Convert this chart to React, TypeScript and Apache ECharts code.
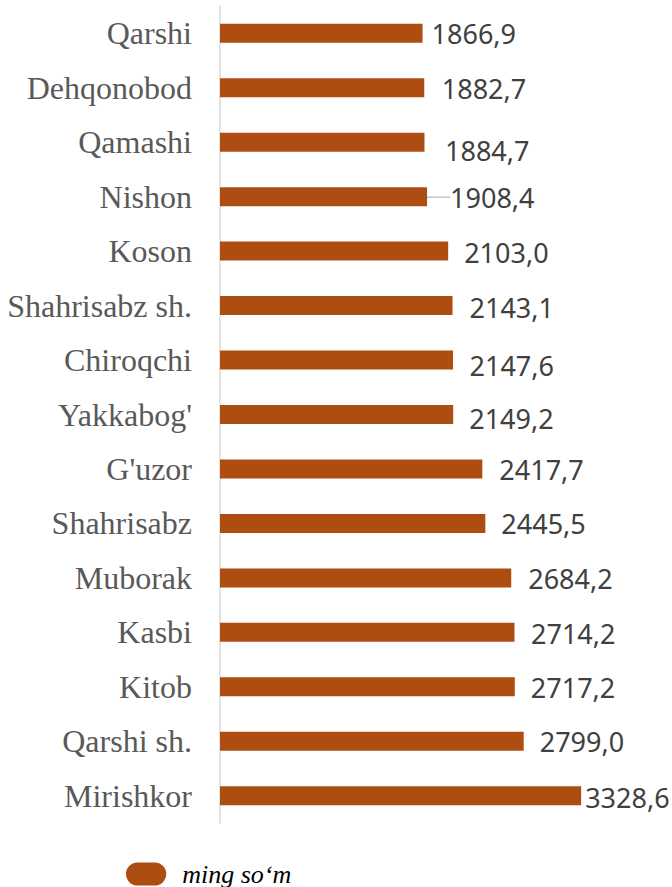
import React, { useEffect, useRef } from "react";
import * as echarts from "echarts";

const categories = [
  "Qarshi",
  "Dehqonobod",
  "Qamashi",
  "Nishon",
  "Koson",
  "Shahrisabz sh.",
  "Chiroqchi",
  "Yakkabog'",
  "G'uzor",
  "Shahrisabz",
  "Muborak",
  "Kasbi",
  "Kitob",
  "Qarshi sh.",
  "Mirishkor",
];
const values = [
  1866.9, 1882.7, 1884.7, 1908.4, 2103.0, 2143.1, 2147.6, 2149.2, 2417.7, 2445.5,
  2684.2, 2714.2, 2717.2, 2799.0, 3328.6,
];
const seriesName = "ming so\u2018m";

// label nudges (px) to mimic manually placed data labels
const labelDx = [-11, -2.5, 0.5, 3, -4, -3, -3.5, -4, -3, -4, -3, -3.5, -4, -4, -16];
const labelDy = [0, 1, 8, 0.5, 1.5, 1.5, 5, 3.5, 1, 0, 1, 1, 0.5, 0.5, 2];

const BAR = "#AD4D12";
const SERIF = "'Liberation Serif', 'Times New Roman', serif";

export default function App() {
  const ref = useRef<HTMLDivElement>(null);
  useEffect(() => {
    if (!ref.current) return;
    const chart = echarts.init(ref.current, null, { renderer: "svg" });
    const pill = "path://M12,0 L30,0 A12,12 0 0 1 30,24 L12,24 A12,12 0 0 1 12,0 Z";
    chart.setOption({
      animation: false,
      backgroundColor: "#ffffff",
      grid: { left: 220, right: 18, top: 6, height: 817 },
      legend: {
        data: [{ name: seriesName, icon: pill }],
        left: 121,
        top: 856,
        itemWidth: 42,
        itemHeight: 23,
        formatter: (n: string) => `{t|${n}}`,
        textStyle: {
          fontFamily: SERIF,
          fontStyle: "italic",
          fontSize: 26,
          color: "#000000",
          rich: {
            t: {
              fontFamily: SERIF,
              fontStyle: "italic",
              fontSize: 26,
              color: "#000000",
              padding: [0, 0, 0, 10],
            },
          },
        },
      },
      xAxis: {
        type: "value",
        min: 0,
        max: 4000,
        show: false,
      },
      yAxis: {
        type: "category",
        data: categories,
        inverse: true,
        axisLine: { show: true, lineStyle: { color: "#D9D9D9", width: 1.5 } },
        axisTick: { show: false },
        axisLabel: {
          margin: 28,
          fontFamily: SERIF,
          fontSize: 32,
          color: "#595959",
        },
      },
      series: [
        {
          name: seriesName,
          type: "bar",
          barWidth: 19,
          itemStyle: { color: BAR },
          data: values.map((v, i) =>
            i === 3
              ? { value: v, labelLine: { show: true, lineStyle: { color: "#A6A6A6", width: 1 } } }
              : { value: v }
          ),
          label: {
            show: true,
            position: "right",
            distance: 20,
            fontFamily: "Noto Sans",
            fontSize: 27,
            color: "#404040",
            formatter: (p: any) => Number(p.value).toFixed(1).replace(".", ","),
          },
          labelLine: { show: false },
          labelLayout: (p: any) => ({ dx: labelDx[p.dataIndex], dy: labelDy[p.dataIndex] }),
        },
      ],
    });
    return () => chart.dispose();
  }, []);
  return (
    <div
      ref={ref}
      style={{ position: "fixed", left: 0, top: 0, width: 672, height: 887 }}
    />
  );
}
